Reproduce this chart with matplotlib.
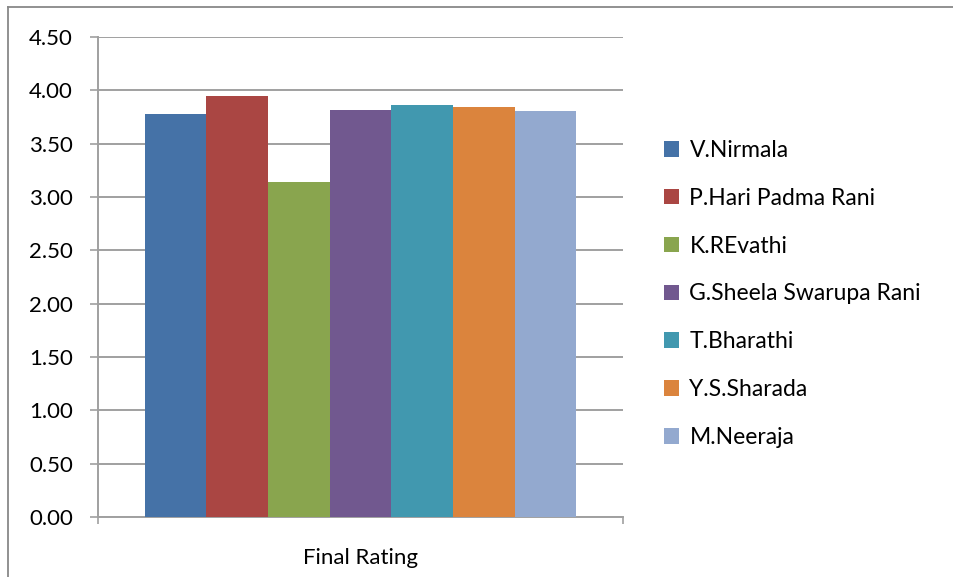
import matplotlib
matplotlib.use("Agg")
import matplotlib.pyplot as plt
from matplotlib.lines import Line2D
from matplotlib.patches import Patch

plt.rcParams['font.family'] = ['Lato', 'DejaVu Sans']

names = ["V.Nirmala", "P.Hari Padma Rani", "K.REvathi", "G.Sheela Swarupa Rani",
         "T.Bharathi", "Y.S.Sharada", "M.Neeraja"]
ratings = [3.78, 3.95, 3.14, 3.82, 3.86, 3.84, 3.81]
colors = ["#4572A7", "#AA4643", "#89A54E", "#71588F", "#4198AF", "#DB843D", "#93A9CF"]
category = "Final Rating"
yticks = [0.0, 0.5, 1.0, 1.5, 2.0, 2.5, 3.0, 3.5, 4.0, 4.5]

W, H = 954, 577
fig = plt.figure(figsize=(W / 100, H / 100), dpi=100)
ax = fig.add_axes([98 / W, 1 - 517 / H, (623 - 98) / W, (517 - 37) / H])

positions = list(range(len(names)))
for x, v, c, n in zip(positions, ratings, colors, names):
    ax.bar(x, v, width=1.0, color=c, label=n, zorder=3)

pad = 0.76
ax.set_xlim(-0.5 - pad, len(names) - 0.5 + pad)
ax.set_ylim(0, 4.5)
ax.set_yticks(yticks)
ax.set_yticklabels([f"{t:.2f}" for t in yticks], fontsize=16)
ax.yaxis.grid(True, color="#a0a0a0", linewidth=1.4, zorder=0)

ax.set_xticks([-0.5 - pad, len(names) - 0.5 + pad])
ax.set_xticklabels(["", ""])
ax.set_xticks([(len(names) - 1) / 2], minor=True)
ax.set_xticklabels([category], minor=True, fontsize=16)
ax.tick_params(axis="x", which="minor", length=0, pad=22)
ax.tick_params(axis="x", which="major", length=5, color="#a0a0a0", width=1.2)
ax.tick_params(axis="y", length=6, color="#a0a0a0", width=1.2, pad=12)

for side in ["top", "right"]:
    ax.spines[side].set_visible(False)
for side in ["left", "bottom"]:
    ax.spines[side].set_color("#a0a0a0")
    ax.spines[side].set_linewidth(1.4)

handles = [Patch(facecolor=c, edgecolor="none") for c in colors]
fig.legend(handles, names, loc="upper left", bbox_to_anchor=(664 / W, 1 - 140 / H),
           frameon=False, fontsize=16.5, handlelength=0.66, handleheight=0.66,
           handletextpad=0.45, labelspacing=1.17, borderaxespad=0, borderpad=0)

# Chart-area frame: left and top edges
fig.add_artist(Line2D([8 / W, 8 / W], [0, 1 - 7 / H], transform=fig.transFigure,
                      color="#888888", linewidth=1.3))
fig.add_artist(Line2D([8 / W, 1], [1 - 7 / H, 1 - 7 / H], transform=fig.transFigure,
                      color="#888888", linewidth=1.3))

fig.savefig("out.png", dpi=100)
